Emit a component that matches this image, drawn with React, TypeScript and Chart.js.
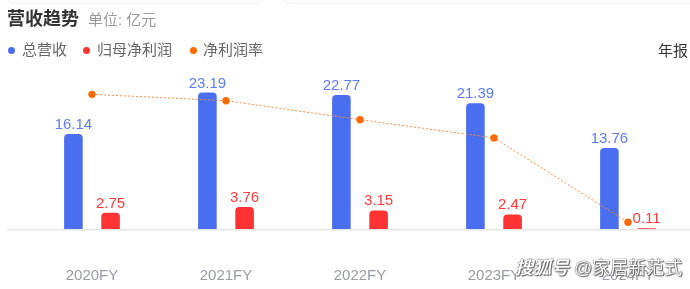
import React, { useEffect, useRef } from "react";
import { Chart, registerables } from "chart.js";

Chart.register(...registerables);

const categories = ["2020FY", "2021FY", "2022FY", "2023FY", "2024FY"];
const revenue = [16.14, 23.19, 22.77, 21.39, 13.76];
const netProfit = [2.75, 3.76, 3.15, 2.47, 0.11];
const netMargin = [17.0, 16.2, 13.8, 11.5, 0.85];

const FONT = '"Liberation Sans", "Noto Sans CJK SC", sans-serif';
const BLUE = "#4a6ef0";
const BLUE_LABEL = "#5b7cf0";
const RED = "#ff3333";
const RED_LABEL = "#ff3b3b";
const ORANGE = "#ff6a00";

const valueLabels = {
  id: "valueLabels",
  afterDatasetsDraw(chart: any) {
    const ctx = chart.ctx;
    ctx.save();
    ctx.font = `15px ${FONT}`;
    ctx.textAlign = "center";
    ctx.textBaseline = "alphabetic";
    [0, 1].forEach((di) => {
      const meta = chart.getDatasetMeta(di);
      const ds = chart.data.datasets[di];
      ctx.fillStyle = di === 0 ? BLUE_LABEL : RED_LABEL;
      meta.data.forEach((el: any, i: number) => {
        const v = ds.data[i] as number;
        ctx.fillText(v.toFixed(2), el.x, el.y - 5);
      });
    });
    ctx.restore();
  },
};

const baseline = {
  id: "baseline",
  beforeDatasetsDraw(chart: any) {
    const ctx = chart.ctx;
    const y = chart.chartArea.bottom;
    ctx.save();
    ctx.strokeStyle = "#e6e6e6";
    ctx.lineWidth = 1.5;
    ctx.beginPath();
    ctx.moveTo(7, y + 0.75);
    ctx.lineTo(chart.width, y + 0.75);
    ctx.stroke();
    ctx.restore();
  },
};

export default function App() {
  const ref = useRef<HTMLCanvasElement>(null);
  useEffect(() => {
    if (!ref.current) return;
    const chart = new Chart(ref.current, {
      type: "bar",
      data: {
        labels: categories,
        datasets: [
          {
            type: "bar",
            label: "总营收",
            data: revenue,
            backgroundColor: BLUE,
            borderRadius: 4,
            borderSkipped: "bottom",
            categoryPercentage: 0.555,
            barPercentage: 0.5,
            yAxisID: "y",
            order: 1,
          },
          {
            type: "bar",
            label: "归母净利润",
            data: netProfit,
            backgroundColor: RED,
            borderRadius: 4,
            borderSkipped: "bottom",
            categoryPercentage: 0.555,
            barPercentage: 0.5,
            yAxisID: "y",
            order: 1,
          },
          {
            type: "line",
            label: "净利润率",
            data: netMargin,
            borderColor: "#ff8a3d",
            borderWidth: 1,
            borderDash: [2, 2],
            pointRadius: 3.7,
            pointBackgroundColor: ORANGE,
            pointBorderWidth: 0,
            yAxisID: "y1",
            order: 0,
          } as any,
        ],
      },
      options: {
        animation: false,
        responsive: false,
        layout: { padding: { left: 25, right: 5, top: 69, bottom: 0 } },
        plugins: { legend: { display: false }, tooltip: { enabled: false }, title: { display: false } },
        scales: {
          x: {
            grid: { display: false, drawTicks: false },
            border: { display: false },
            ticks: { font: { size: 15, family: FONT }, color: "#9a9ba5", padding: 38 },
            afterFit: (s: any) => {
              s.height = 60;
            },
          },
          y: { display: false, min: 0, max: 27.2 },
          y1: { display: false, min: 0, max: 20.2, position: "right" },
        },
      },
      plugins: [baseline, valueLabels],
    });
    return () => chart.destroy();
  }, []);

  const dot = (c: string): React.CSSProperties => ({
    display: "inline-block",
    width: 7,
    height: 7,
    borderRadius: "50%",
    background: c,
    position: "absolute",
    top: 47,
  });
  const legendText: React.CSSProperties = {
    position: "absolute",
    top: 42,
    fontSize: 15,
    lineHeight: "16px",
    color: "#666",
    whiteSpace: "nowrap",
  };

  return (
    <div
      style={{
        position: "fixed",
        left: 0,
        top: 0,
        width: 690,
        height: 289,
        overflow: "hidden",
        background: "#fff",
        fontFamily: FONT,
      }}
    >
      <div style={{ position: "absolute", left: 8, top: -20, width: 252, height: 22, border: "1px solid #f1f1f1", borderRadius: 6 }} />
      <div style={{ position: "absolute", left: 283, top: -20, width: 420, height: 22, border: "1px solid #f1f1f1", borderRadius: 6 }} />
      <canvas
        ref={ref}
        width={700}
        height={289}
        style={{ position: "absolute", left: 0, top: 0, width: 700, height: 289 }}
      />
      <div style={{ position: "absolute", left: 7, top: 10, fontSize: 18, lineHeight: "18px", color: "#333", fontWeight: "bold", whiteSpace: "nowrap" }}>
        营收趋势
      </div>
      <div style={{ position: "absolute", left: 88, top: 12, fontSize: 15, lineHeight: "16px", color: "#999", whiteSpace: "nowrap" }}>
        单位: 亿元
      </div>
      <span style={{ ...dot(BLUE), left: 8 }} />
      <span style={{ ...legendText, left: 22 }}>总营收</span>
      <span style={{ ...dot(RED), left: 83 }} />
      <span style={{ ...legendText, left: 97 }}>归母净利润</span>
      <span style={{ ...dot(ORANGE), left: 190 }} />
      <span style={{ ...legendText, left: 203 }}>净利润率</span>
      <div style={{ position: "absolute", left: 658, top: 43, fontSize: 15, lineHeight: "16px", color: "#333", whiteSpace: "nowrap" }}>
        年报
      </div>
      <div
        style={{
          position: "absolute",
          left: 515,
          top: 258,
          fontSize: 18,
          lineHeight: "20px",
          color: "#fff",
          whiteSpace: "nowrap",
          textShadow: "0 0 1px #444, 0 0 1px #444, 1px 1px 1px #666",
        }}
      >
        <span style={{ fontStyle: "italic", fontWeight: "bold" }}>搜狐号</span> @家居新范式
      </div>
    </div>
  );
}
